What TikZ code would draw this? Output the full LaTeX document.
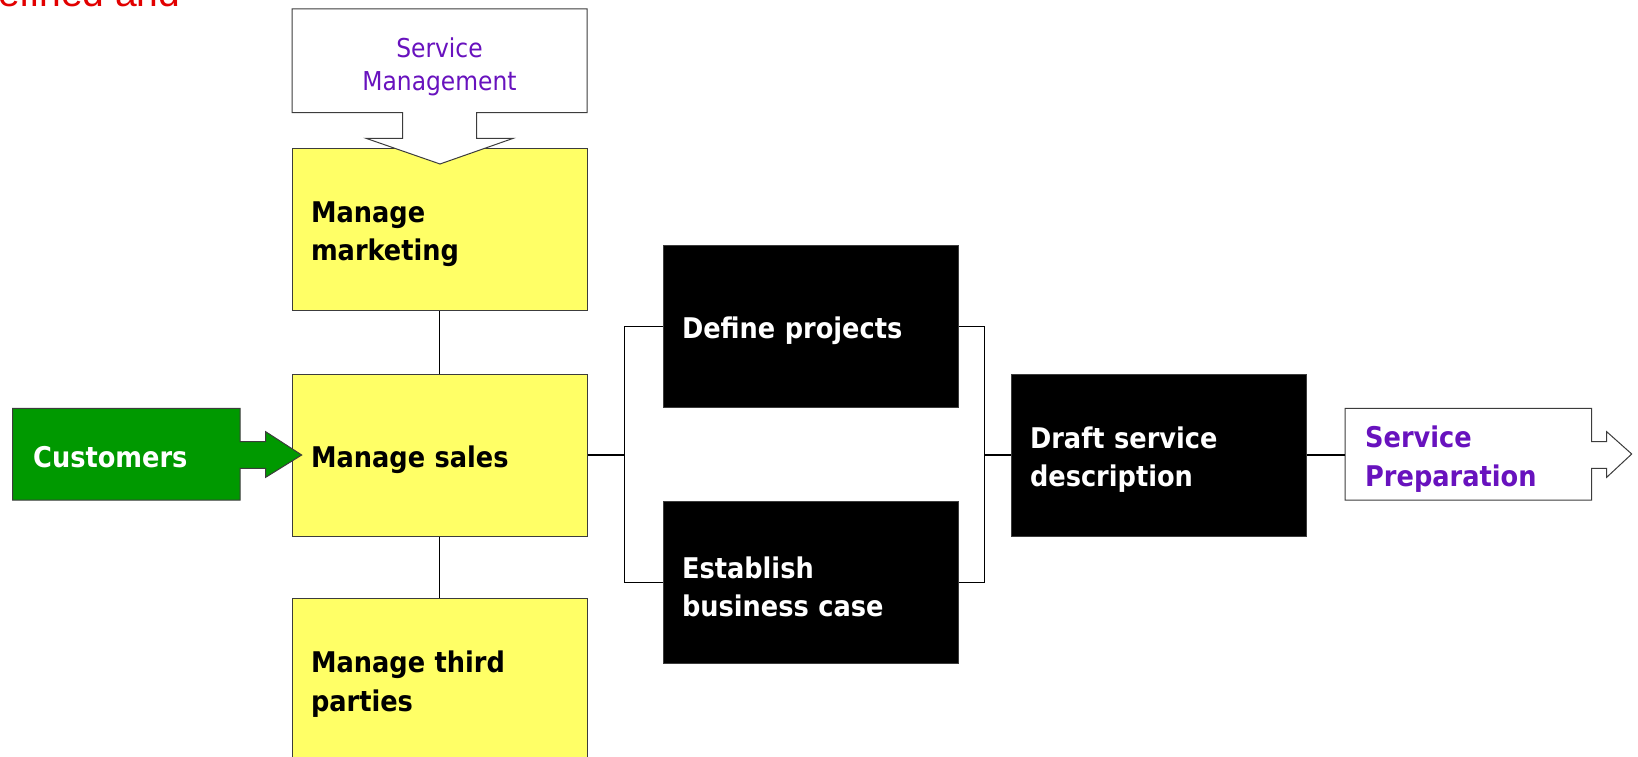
\documentclass[tikz,border=0pt]{standalone}
\usepackage{fontspec}
\setmainfont{DejaVu Sans Condensed}
\newfontfamily\notefont{Liberation Sans}
\definecolor{boxyellow}{RGB}{255,255,102}
\definecolor{custgreen}{RGB}{0,153,0}
\definecolor{svcpurple}{RGB}{104,18,190}
\definecolor{notered}{RGB}{226,0,0}
\definecolor{edgegray}{RGB}{60,60,60}

\begin{document}
\begin{tikzpicture}[x=1pt,y=-1pt,
  boxtext/.style={font=\bfseries\fontsize{28.5}{38.5}\selectfont},
  procbox/.style={draw=edgegray, line width=1pt, minimum width=295pt,
    minimum height=162pt, inner sep=0pt},
  yellowbox/.style={procbox, fill=boxyellow},
  blackbox/.style={procbox, fill=black},
  proctext/.style={boxtext, text width=257pt, align=left, inner sep=0pt},
  link/.style={line width=1.5pt, black},
  outline/.style={draw=edgegray, line width=1pt},
]
\useasboundingbox (0,0) rectangle (1638,757);
\clip (0,0) rectangle (1638,757);

% note text running off the top edge
\node[anchor=base west, inner sep=0pt, text=notered,
      font=\notefont\fontsize{39}{42}\selectfont] (note) at (-2,7) {efined and};

% process boxes
\node[yellowbox] (marketing) at (439.5,229.5) {};
\node[yellowbox] (sales)     at (439.5,455)   {};
\node[yellowbox] (third)     at (439.5,679.5) {};
\node[blackbox]  (define)    at (810.5,326.5) {};
\node[blackbox]  (establish) at (810.5,582.5) {};
\node[blackbox]  (draft)     at (1158.5,455)  {};

% their captions, set a little below centre
\node[proctext, text=black] (marketing-t) at ([yshift=-4.5pt]marketing.center) {Manage\\marketing};
\node[proctext, text=black] (sales-t)     at ([yshift=-4.5pt]sales.center)     {Manage sales};
\node[proctext, text=black] (third-t)     at ([yshift=-4.5pt]third.center)     {Manage third\\parties};
\node[proctext, text=white] (define-t)    at ([yshift=-4.5pt]define.center)    {Define projects};
\node[proctext, text=white] (establish-t) at ([yshift=-4.5pt]establish.center) {Establish\\business case};
\node[proctext, text=white] (draft-t)     at ([yshift=-4.5pt]draft.center)     {Draft service\\description};

% Service Management block arrow pointing down into marketing
\path[outline, fill=white]
  (292,9) -- (587,9) -- (587,112.7) -- (476.7,112.7) -- (476.7,138.3)
  -- (513.3,138.3) -- (440,164) -- (366,138.3) -- (402.7,138.3)
  -- (402.7,112.7) -- (292,112.7) -- cycle;
\node[align=center, text=svcpurple, inner sep=0pt,
      font=\fontsize{26}{32.5}\selectfont] (svcmgmt) at (439.5,67)
      {Service\\Management};

% Customers block arrow
\path[outline, fill=custgreen]
  (12.7,408.3) -- (240,408.3) -- (240,441.7) -- (265.7,441.7)
  -- (265.7,431.7) -- (301.7,455) -- (265.7,477.3) -- (265.7,468.3)
  -- (240,468.3) -- (240,500) -- (12.7,500) -- cycle;
\node[anchor=west, inner sep=0pt, text=white, boxtext] (customers)
      at (33,457.5) {Customers};

% Service Preparation block arrow
\path[outline, fill=white]
  (1345,408.3) -- (1591.7,408.3) -- (1591.7,441.7) -- (1606.7,441.7)
  -- (1606.7,431.7) -- (1631.7,454) -- (1606.7,477.3) -- (1606.7,468.3)
  -- (1591.7,468.3) -- (1591.7,500) -- (1345,500) -- cycle;
\node[anchor=west, inner sep=0pt, text=svcpurple, align=left,
      font=\bfseries\fontsize{28.5}{39.5}\selectfont] (prep) at (1365,459)
      {Service\\Preparation};
\coordinate (prepin) at (1345,455);

% connectors
\coordinate (splitl) at (624.3,455);
\coordinate (splitr) at (984.3,455);
\draw[link] (marketing.south) -- (sales.north);
\draw[link] (sales.south) -- (third.north);
\draw[link] (sales.east) -- (splitl);
\draw[link] (splitl) |- (define.west);
\draw[link] (splitl) |- (establish.west);
\draw[link] (define.east) -| (splitr);
\draw[link] (establish.east) -| (splitr);
\draw[link] (splitr) -- (draft.west);
\draw[link] (draft.east) -- (prepin);
\end{tikzpicture}
\end{document}
